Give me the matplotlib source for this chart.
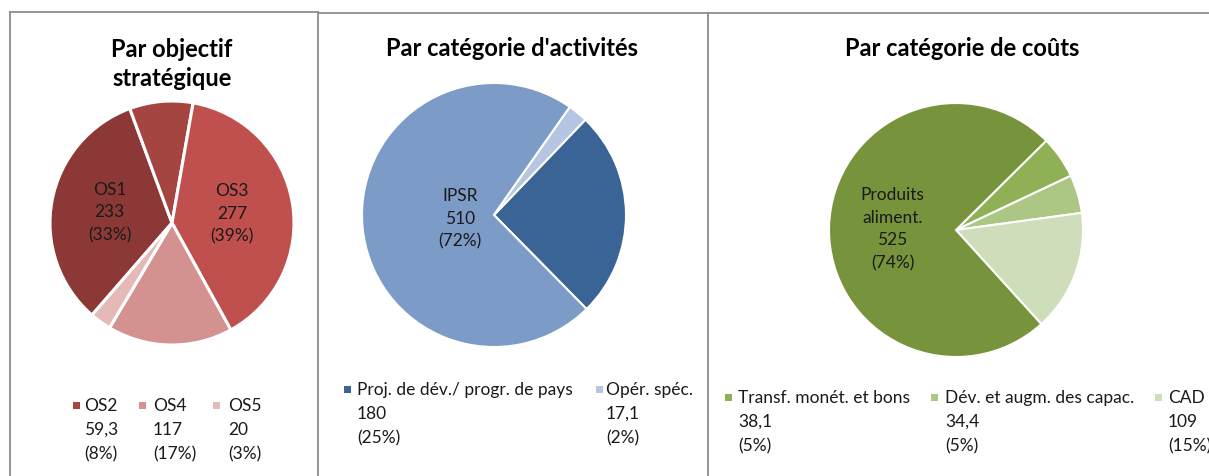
import numpy as np
import matplotlib
matplotlib.use("Agg")
import matplotlib.pyplot as plt
from matplotlib.patches import Rectangle
from matplotlib.lines import Line2D

plt.rcParams['font.family'] = ['Lato', 'DejaVu Sans']

# ---------------- data ----------------
# Panel 1: Par objectif stratégique (clockwise order as drawn)
os_labels = ["OS1", "OS2", "OS3", "OS4", "OS5"]
os_values = [233, 59.3, 277, 117, 20]
os_value_txt = ["233", "59,3", "277", "117", "20"]
os_pct = ["33%", "8%", "39%", "17%", "3%"]
os_colors = ["#8C3836", "#A54542", "#C0504D", "#D3918F", "#E5B9B8"]

# Panel 2: Par catégorie d'activités
act_labels = ["Proj. de dév./ progr. de pays", "IPSR", "Opér. spéc."]
act_values = [180, 510, 17.1]
act_value_txt = ["180", "510", "17,1"]
act_pct = ["25%", "72%", "2%"]
act_colors = ["#3A6496", "#7C9BC7", "#B6C5E1"]

# Panel 3: Par catégorie de coûts
cost_labels = ["Transf. monét. et bons", "Dév. et augm. des capac.", "CAD", "Produits\naliment."]
cost_values = [38.1, 34.4, 109, 525]
cost_value_txt = ["38,1", "34,4", "109", "525"]
cost_pct = ["5%", "5%", "15%", "74%"]
cost_colors = ["#8FB054", "#ACC684", "#CEDDBA", "#77933C"]

W, H = 1209, 477
fig = plt.figure(figsize=(W / 100, H / 100), dpi=100)
fig.patch.set_facecolor("white")

TXT = 12.5
TTL = 17


def fx(x):
    return x / W


def fy(y):
    return 1 - y / H


def pie_panel(cx, cy, r, values, colors, start_from_top, inside, inside_texts, lw):
    ax = fig.add_axes([fx(cx - r - 4), fy(cy + r + 4), (2 * r + 8) / W, (2 * r + 8) / H])
    wedges, _ = ax.pie(values, colors=colors, startangle=90 - start_from_top,
                       counterclock=False, radius=1.0,
                       wedgeprops=dict(edgecolor="white", linewidth=lw))
    lim = (r + 4) / r
    ax.set_xlim(-lim, lim)
    ax.set_ylim(-lim, lim)
    ax.set_aspect("equal")
    ax.axis("off")
    for i, w in enumerate(wedges):
        if inside[i] is None:
            continue
        mid = np.deg2rad((w.theta1 + w.theta2) / 2)
        d = inside[i]
        ax.text(d * np.cos(mid), d * np.sin(mid), inside_texts[i], ha="center",
                va="center", fontsize=TXT, linespacing=1.5, color="#1a1a1a")
    return ax


# Panel 1
pie_panel(172, 224, 122, os_values, os_colors, 221, [0.52, None, 0.5, None, None],
          [f"{l}\n{v}\n({p})" for l, v, p in zip(os_labels, os_value_txt, os_pct)], 2.2)
# Panel 2
pie_panel(494, 216, 132, act_values, act_colors, 43.8, [None, 0.26, None],
          [f"{l}\n{v}\n({p})" for l, v, p in zip(act_labels, act_value_txt, act_pct)], 1.5)
# Panel 3
pie_panel(956, 231, 127, cost_values, cost_colors, 45.3, [None, None, None, 0.5],
          [f"{l}\n{v}\n({p})" for l, v, p in zip(cost_labels, cost_value_txt, cost_pct)], 1.5)

# Titles
fig.text(fx(172), fy(64), "Par objectif\nstratégique", ha="center", va="center",
         fontsize=TTL, fontweight="bold", linespacing=1.32)
fig.text(fx(512), fy(48), "Par catégorie d'activités", ha="center", va="center",
         fontsize=TTL, fontweight="bold")
fig.text(fx(962), fy(48), "Par catégorie de coûts", ha="center", va="center",
         fontsize=TTL, fontweight="bold")


# Legends (entries not labelled inside the pies)
def legend_entry(mx, tx, y0, color, label, value, pct, size=7):
    fig.add_artist(Rectangle((fx(mx), fy(y0 + size / 2)), size / W, size / H,
                             transform=fig.transFigure, facecolor=color, edgecolor="none"))
    for k, t in enumerate([label, value, f"({pct})"]):
        fig.text(fx(tx), fy(y0 + 24 * k), t, ha="left", va="center", fontsize=TXT,
                 color="#1a1a1a")


leg1 = [1, 3, 4]
leg1_pos = [(73, 84), (139, 153), (213, 228)]
for i, (mx, tx) in zip(leg1, leg1_pos):
    legend_entry(mx, tx, 406, os_colors[i], os_labels[i], os_value_txt[i], os_pct[i])

leg2 = [0, 2]
leg2_pos = [(344, 357), (596, 606)]
for i, (mx, tx) in zip(leg2, leg2_pos):
    legend_entry(mx, tx, 390, act_colors[i], act_labels[i], act_value_txt[i], act_pct[i])

leg3 = [0, 1, 2]
leg3_pos = [(725, 738), (931, 945), (1155, 1168)]
for i, (mx, tx) in zip(leg3, leg3_pos):
    legend_entry(mx, tx, 398, cost_colors[i], cost_labels[i], cost_value_txt[i], cost_pct[i])

# Panel borders
bc = "#8C8C8C"
for (x0, y0, x1, y1) in [(10, 13, 318, 13), (318, 14, 1209, 14), (10, 13, 10, 477),
                         (318, 13, 318, 477), (708, 14, 708, 477)]:
    fig.add_artist(Line2D([fx(x0), fx(x1)], [fy(y0), fy(y1)], color=bc, lw=1.3,
                          transform=fig.transFigure))

fig.savefig("out.png", dpi=100, facecolor="white")
